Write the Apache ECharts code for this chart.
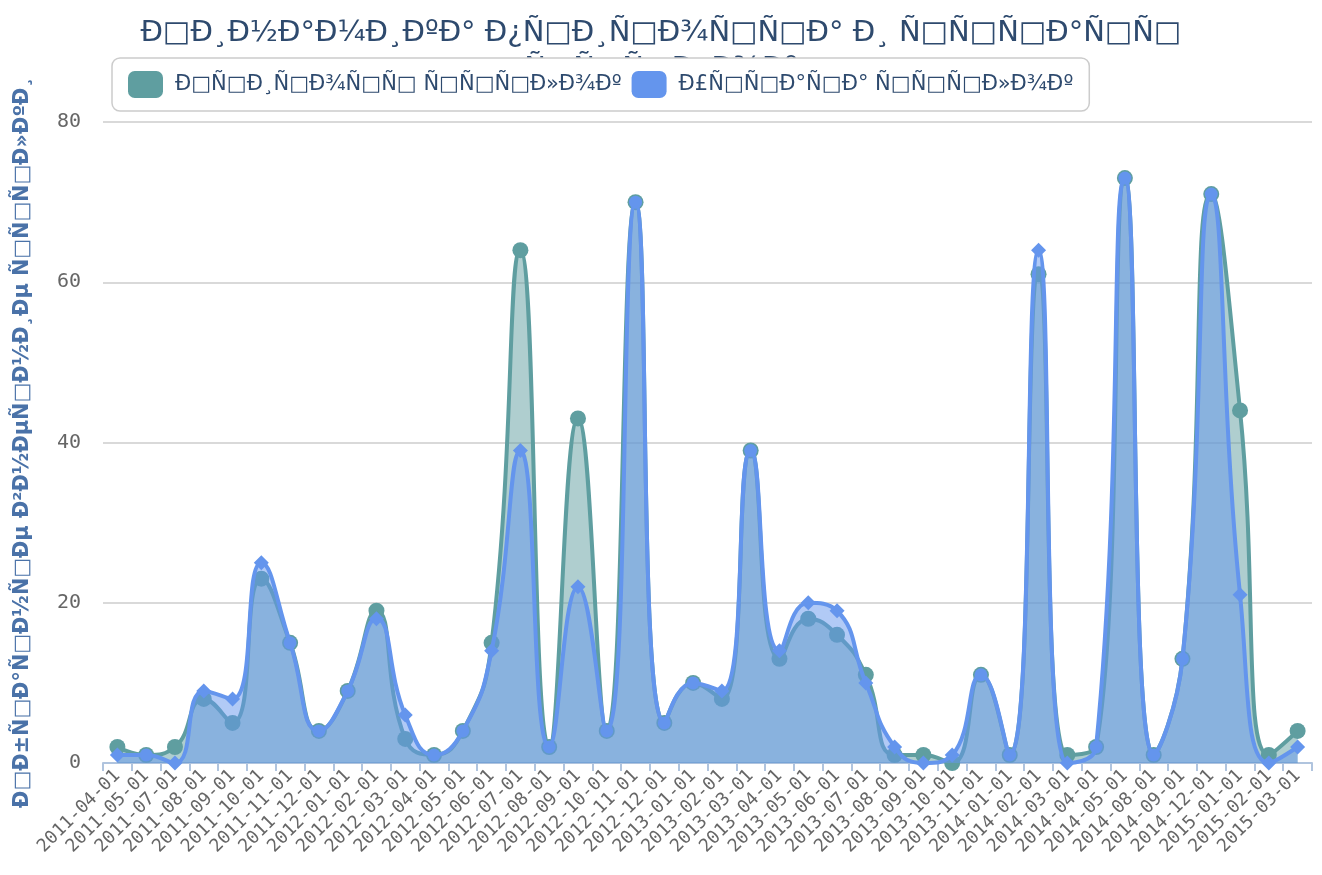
<!DOCTYPE html>
<html><head><meta charset="utf-8">
<script src="https://cdn.jsdelivr.net/npm/echarts/dist/echarts.min.js"></script>
<style>html,body{margin:0;padding:0;background:#fff}#c{width:1322px;height:875px}</style>
</head><body><div id="c"></div>
<script>
// The reference shows the Russian text as UTF-8 bytes read as Latin-1 (mojibake);
// unprintable C1 bytes are drawn as empty boxes.
const toMojibake = s => unescape(encodeURIComponent(s)).replace(/[\u0080-\u009f]/g, '\u25A1');
const titleLines = ['Динамика прироста и утраты', 'ссылок'];
const seriesNames = ['Прирост ссылок', 'Утрата ссылок'];
const yAxisName = 'Обратные внешние ссылки';

const categories = ['2011-04-01','2011-05-01','2011-07-01','2011-08-01','2011-09-01','2011-10-01','2011-11-01','2011-12-01',
'2012-01-01','2012-02-01','2012-03-01','2012-04-01','2012-05-01','2012-06-01','2012-07-01','2012-08-01','2012-09-01','2012-10-01','2012-11-01','2012-12-01',
'2013-01-01','2013-02-01','2013-03-01','2013-04-01','2013-05-01','2013-06-01','2013-07-01','2013-08-01','2013-09-01','2013-10-01','2013-11-01',
'2014-01-01','2014-02-01','2014-03-01','2014-04-01','2014-05-01','2014-08-01','2014-09-01','2014-12-01',
'2015-01-01','2015-02-01','2015-03-01'];
const gained = [2,1,2,8,5,23,15,4, 9,19,3,1,4,15,64,2,43,4,70,5, 10,8,39,13,18,16,11,1,1,0,11, 1,61,1,2,73,1,13,71, 44,1,4];
const lost   = [1,1,0,9,8,25,15,4, 9,18,6,1,4,14,39,2,22,4,70,5, 10,9,39,14,20,19,10,2,0,1,11, 1,64,0,2,73,1,13,71, 21,0,2];
const yTicks = {min: 0, max: 80, interval: 20};

const green = '#5F9EA0', blue = '#6495ED';
const chart = echarts.init(document.getElementById('c'));
chart.setOption({
  animation: false,
  backgroundColor: '#fff',
  title: {
    text: titleLines.map(toMojibake).join('\n'),
    left: 'center', top: 10, z: 2,
    textStyle: {fontFamily: 'DejaVu Sans', fontSize: 29, fontWeight: 'normal', color: '#2E4A6E', lineHeight: 36}
  },
  legend: {
    top: 58, left: 112, z: 10,
    data: seriesNames.map(toMojibake),
    icon: 'roundRect',
    backgroundColor: '#fff', borderColor: '#ccc', borderWidth: 1.5, borderRadius: 8,
    padding: [13, 16], itemGap: 10,
    itemWidth: 35, itemHeight: 27,
    textStyle: {fontFamily: 'DejaVu Sans', fontSize: 21, color: '#2E4A6E', padding: [0, 0, 0, 7]}
  },
  grid: {left: 103, right: 10, top: 122, bottom: 112},
  xAxis: {
    type: 'category', data: categories, boundaryGap: true,
    axisLine: {lineStyle: {color: '#B0C4DE', width: 2}},
    axisTick: {show: true, length: 8, lineStyle: {color: '#B0C4DE', width: 2}},
    axisLabel: {interval: 0, rotate: 45, color: '#666', fontFamily: 'DejaVu Sans Mono', fontSize: 18, margin: 10}
  },
  yAxis: {
    type: 'value', min: yTicks.min, max: yTicks.max, interval: yTicks.interval,
    name: toMojibake(yAxisName), nameLocation: 'middle', nameGap: 70,
    nameTextStyle: {fontFamily: 'DejaVu Sans', fontSize: 20.8, fontWeight: 'bold', color: '#4A72A8'},
    axisLine: {show: false}, axisTick: {show: false},
    axisLabel: {color: '#666', fontFamily: 'DejaVu Sans Mono', fontSize: 20, margin: 22},
    splitLine: {lineStyle: {color: '#ccc', width: 1.5}}
  },
  series: [
    {
      name: toMojibake(seriesNames[0]), type: 'line', data: gained, smooth: true, z: 2,
      symbol: 'circle', symbolSize: 16,
      itemStyle: {color: green}, lineStyle: {color: green, width: 4},
      areaStyle: {color: green, opacity: 0.5}
    },
    {
      name: toMojibake(seriesNames[1]), type: 'line', data: lost, smooth: true, z: 3,
      symbol: (v, p) => lost[p.dataIndex] === gained[p.dataIndex] ? 'circle' : 'diamond',
      symbolSize: (v, p) => lost[p.dataIndex] === gained[p.dataIndex] ? 13 : 15,
      itemStyle: {color: blue}, lineStyle: {color: blue, width: 4},
      areaStyle: {color: blue, opacity: 0.5}
    }
  ]
});
</script></body></html>
